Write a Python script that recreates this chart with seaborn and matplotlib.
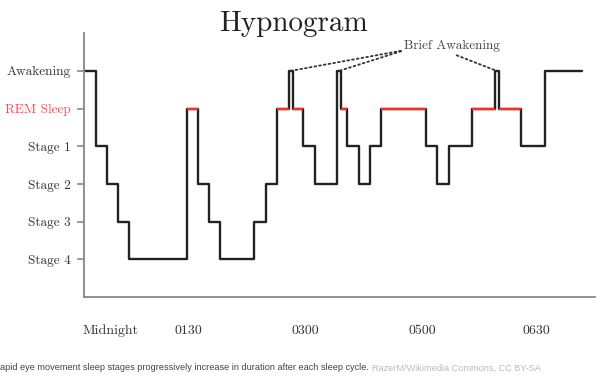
import numpy as np
import pandas as pd
import matplotlib
matplotlib.use("Agg")
import matplotlib.pyplot as plt
import seaborn as sns

# stages, top to bottom of the y axis
stages = ['Awakening', 'REM Sleep', 'Stage 1', 'Stage 2', 'Stage 3', 'Stage 4']
# start of each stage (minutes after the start of the record) and the stage
seg_start = [0, 11.5, 23, 34, 45, 103, 113.5, 125, 136, 170, 181.5, 192.5,
             204.5, 208.5, 218.5, 230.5, 253, 257, 262.5, 274.5, 285.5, 297,
             341.5, 352.5, 364.5, 387.5, 410.5, 414.5, 436.5, 460.5]
seg_stage = ['Awakening', 'Stage 1', 'Stage 2', 'Stage 3', 'Stage 4', 'REM Sleep',
             'Stage 2', 'Stage 3', 'Stage 4', 'Stage 3', 'Stage 2', 'REM Sleep',
             'Awakening', 'REM Sleep', 'Stage 1', 'Stage 2', 'Awakening', 'REM Sleep',
             'Stage 1', 'Stage 2', 'Stage 1', 'REM Sleep',
             'Stage 1', 'Stage 2', 'Stage 1', 'REM Sleep', 'Awakening', 'REM Sleep',
             'Stage 1', 'Awakening']
record_end = 497.5
# x labels and where they sit
time_labels = ['Midnight', '0130', '0300', '0500', '0630']
time_pos = [26, 104, 221, 338, 452]
brief_wake = [206.5, 255, 412.5]

caption = 'apid eye movement sleep stages progressively increase in duration after each sleep cycle.'
credit = 'RazerM/Wikimedia Commons, CC BY-SA'

sns.set_style('white')
plt.rcParams['font.family'] = ['cmr10', 'DejaVu Serif']
plt.rcParams['axes.formatter.use_mathtext'] = True

level = {s: len(stages) - 1 - i for i, s in enumerate(stages)}  # Stage 4 = 0 ... Awakening = 5
df = pd.DataFrame({'t': seg_start + [record_end],
                   'lvl': [level[s] for s in seg_stage] + [level[seg_stage[-1]]]})

fig = plt.figure(figsize=(6, 3.77), dpi=100)
ax = fig.add_axes([0.14, 0.212, 0.852, 0.7])

sns.lineplot(data=df, x='t', y='lvl', drawstyle='steps-post', color='#222222',
             linewidth=1.7, sort=False, ax=ax)

# REM periods in red
ends = seg_start[1:] + [record_end]
for s, e, st in zip(seg_start, ends, seg_stage):
    if st == 'REM Sleep':
        ax.plot([s, e], [level[st]] * 2, color='#ff2a2a', linewidth=1.7,
                solid_capstyle='butt', zorder=3)

ax.set_xlim(0, 511)
ax.set_ylim(-1, 6)
ax.set_xlabel('')
ax.set_ylabel('')

ax.set_yticks([level[s] for s in stages])
ax.set_yticklabels(stages, fontsize=9.6, color='#333333')
ax.get_yticklabels()[1].set_color('#ff4a55')
ax.tick_params(axis='y', left=True, length=5, width=1.2, color='#888888', pad=4.5)

ax.set_xticks(time_pos)
ax.set_xticklabels(time_labels, fontsize=10, color='#333333')
ax.tick_params(axis='x', bottom=False, length=0, pad=20)

for side in ['top', 'right']:
    ax.spines[side].set_visible(False)
for side in ['left', 'bottom']:
    ax.spines[side].set_color('#888888')
    ax.spines[side].set_linewidth(1.3)

# brief awakening callouts
for i, x in enumerate(brief_wake):
    rel = (0.0, 0.15) if i < 2 else (0.46, 0.0)
    ax.annotate('Brief Awakening', xy=(x, level['Awakening']), xytext=(368, 5.66),
                ha='center', va='center', fontsize=9.5, color='#444444',
                alpha=1 if i == 0 else 0, annotation_clip=False,
                arrowprops=dict(arrowstyle='-', linestyle=':', linewidth=1.3,
                                color='#333333', shrinkA=0, shrinkB=0, relpos=rel))

fig.text(0.49, 0.938, 'Hypnogram', ha='center', va='center', fontsize=21, color='#222222')

t1 = fig.text(0.0, 0.024, caption, ha='left', va='center', fontsize=6.55,
              color='#444444', family=['Liberation Sans', 'DejaVu Sans'])
fig.canvas.draw()
bb = t1.get_window_extent()
fig.text(bb.x1 / fig.bbox.width + 0.006, 0.024, credit, ha='left', va='center',
         fontsize=6.55, color='#bbbbbb', family=['Liberation Sans', 'DejaVu Sans'])

fig.savefig('out.png', dpi=100)
